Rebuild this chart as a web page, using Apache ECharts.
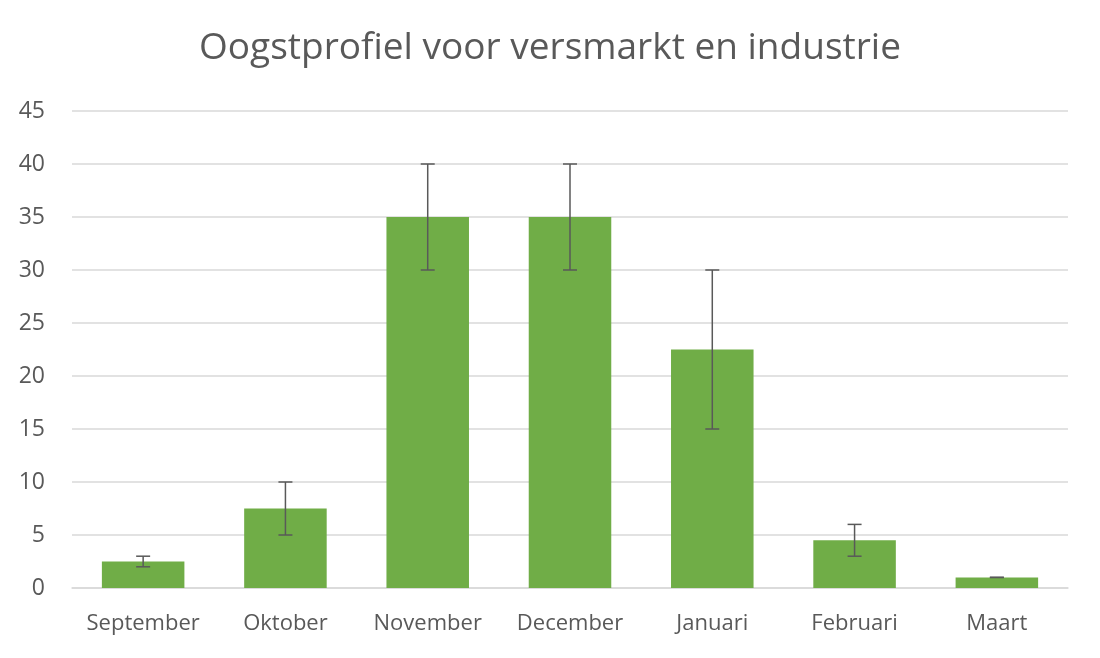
<!DOCTYPE html>
<html>
<head>
<meta charset="utf-8">
<script src="https://cdn.jsdelivr.net/npm/echarts@6/dist/echarts.min.js"></script>
<style>
  html, body { margin: 0; padding: 0; background: #fff; }
  #chart { width: 1100px; height: 658px; }
</style>
</head>
<body>
<div id="chart"></div>
<script>
// maanden en oogstwaarden
var maanden = ['September', 'Oktober', 'November', 'December', 'Januari', 'Februari', 'Maart'];
var waarden = [2.5, 7.5, 35, 35, 22.5, 4.5, 1];
// foutbalken: onder- en bovengrens
var foutOnder = [2, 5, 30, 30, 15, 3, 1];
var foutBoven = [3, 10, 40, 40, 30, 6, 1];

var tekstKleur = '#595959';
var fontNaam = 'Open Sans';

var myChart = echarts.init(document.getElementById('chart'), null, { renderer: 'canvas' });

var option = {
    animation: false,
    title: {
        text: 'Oogstprofiel voor versmarkt en industrie',
        left: 'center',
        top: 25,
        textStyle: {
            color: tekstKleur,
            fontFamily: fontNaam,
            fontSize: 37,
            fontWeight: 'normal'
        }
    },
    grid: {
        left: 72,
        right: 32,
        top: 111,
        bottom: 70
    },
    xAxis: {
        type: 'category',
        data: maanden,
        axisTick: { show: false },
        axisLine: { lineStyle: { color: '#d9d9d9', width: 1.5 } },
        axisLabel: {
            interval: 0,
            hideOverlap: false,
            color: tekstKleur,
            fontFamily: fontNaam,
            fontSize: 22,
            margin: 25
        }
    },
    yAxis: {
        type: 'value',
        min: 0,
        max: 45,
        interval: 5,
        axisLine: { show: false },
        axisTick: { show: false },
        splitLine: { lineStyle: { color: '#d9d9d9', width: 1.5 } },
        axisLabel: {
            color: tekstKleur,
            fontFamily: fontNaam,
            fontSize: 23,
            margin: 27
        }
    },
    series: [
        {
            type: 'bar',
            data: waarden,
            barCategoryGap: '42%',
            itemStyle: { color: '#70ad47' }
        },
        {
            // foutbalken tekenen via de schaal van de assen
            type: 'custom',
            data: maanden.map(function (m, i) { return [i, foutOnder[i], foutBoven[i]]; }),
            z: 10,
            renderItem: function (params, api) {
                var x = api.value(0);
                var laag = api.coord([x, api.value(1)]);
                var hoog = api.coord([x, api.value(2)]);
                var half = 7;
                var stijl = { stroke: tekstKleur, lineWidth: 1.5 };
                return {
                    type: 'group',
                    children: [
                        { type: 'line', shape: { x1: hoog[0], y1: hoog[1], x2: laag[0], y2: laag[1] }, style: stijl },
                        { type: 'line', shape: { x1: hoog[0] - half, y1: hoog[1], x2: hoog[0] + half, y2: hoog[1] }, style: stijl },
                        { type: 'line', shape: { x1: laag[0] - half, y1: laag[1], x2: laag[0] + half, y2: laag[1] }, style: stijl }
                    ]
                };
            }
        }
    ]
};

myChart.setOption(option);
</script>
</body>
</html>
